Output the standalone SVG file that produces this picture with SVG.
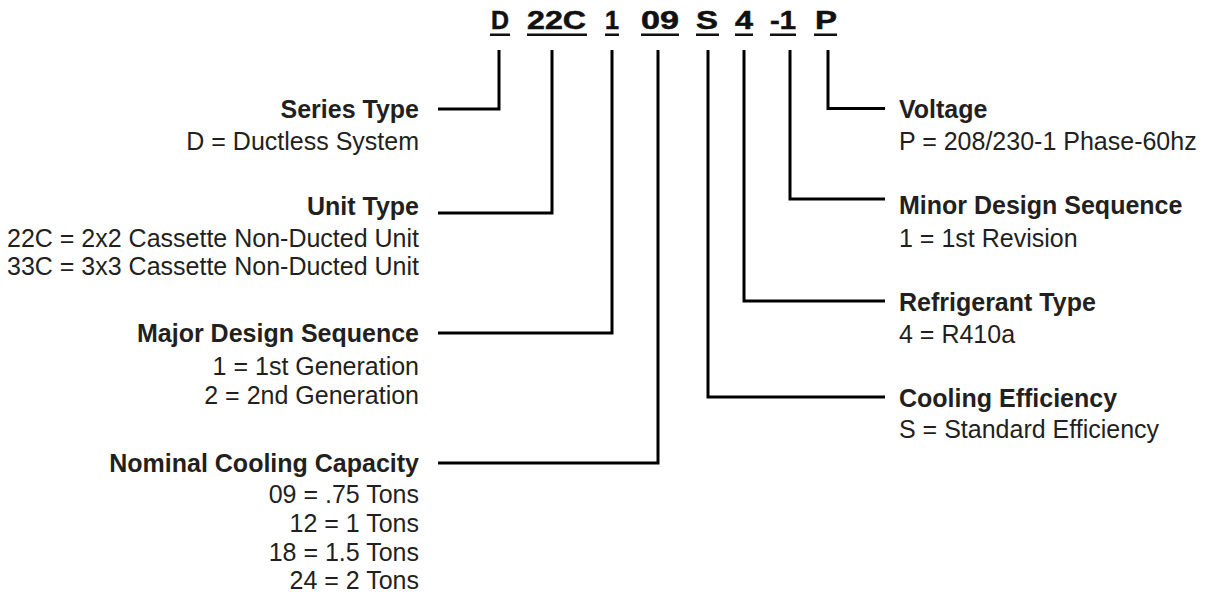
<svg xmlns="http://www.w3.org/2000/svg" width="1205" height="606" viewBox="0 0 1205 606">
<style>
.code{font-family:"Liberation Sans",Arial,sans-serif;font-weight:bold;font-size:25px;fill:#111;stroke:#111;stroke-width:0.5;text-anchor:start}
.t{font-family:"Liberation Sans",Arial,sans-serif;font-weight:bold;font-size:25px;fill:#231f20}
.d{font-family:"Liberation Sans",Arial,sans-serif;font-size:25px;fill:#231f20}
.l{text-anchor:end}
.ul{fill:#111}
.c{fill:none;stroke:#000;stroke-width:3;stroke-linejoin:miter}
</style>
<rect width="1205" height="606" fill="#fff"/>
<g id="code">
<text class="code" x="491" y="29" textLength="18" lengthAdjust="spacingAndGlyphs">D</text><rect class="ul" x="490" y="33.5" width="20" height="2.5"/>
<text class="code" x="527" y="29" textLength="59" lengthAdjust="spacingAndGlyphs">22C</text><rect class="ul" x="527" y="33.5" width="60" height="2.5"/>
<text class="code" x="605" y="29" textLength="14" lengthAdjust="spacingAndGlyphs">1</text><rect class="ul" x="605" y="33.5" width="14" height="2.5"/>
<text class="code" x="641" y="29" textLength="38" lengthAdjust="spacingAndGlyphs">09</text><rect class="ul" x="641" y="33.5" width="38" height="2.5"/>
<text class="code" x="696" y="29" textLength="22" lengthAdjust="spacingAndGlyphs">S</text><rect class="ul" x="696" y="33.5" width="23" height="2.5"/>
<text class="code" x="735" y="29" textLength="18" lengthAdjust="spacingAndGlyphs">4</text><rect class="ul" x="735" y="33.5" width="18" height="2.5"/>
<text class="code" x="770" y="29" textLength="26" lengthAdjust="spacingAndGlyphs">-1</text><rect class="ul" x="770" y="33.5" width="26" height="2.5"/>
<text class="code" x="815" y="29" textLength="22" lengthAdjust="spacingAndGlyphs">P</text><rect class="ul" x="814" y="33.5" width="23" height="2.5"/>
</g>
<g id="connectors">
<path class="c" d="M499,50 V109 H438"/>
<path class="c" d="M552,50 V213 H438"/>
<path class="c" d="M612,50 V333 H438"/>
<path class="c" d="M658,50 V463 H438"/>
<path class="c" d="M708,50 V397 H885"/>
<path class="c" d="M744,50 V301 H885"/>
<path class="c" d="M790,50 V199 H885"/>
<path class="c" d="M828,50 V108.5 H885"/>
</g>
<g id="series-type">
<text class="t l" x="419" y="118">Series Type</text>
<text class="d l" x="419" y="150">D = Ductless System</text>
</g>
<g id="unit-type">
<text class="t l" x="419" y="215">Unit Type</text>
<text class="d l" x="419" y="247">22C = 2x2 Cassette Non-Ducted Unit</text>
<text class="d l" x="419" y="275">33C = 3x3 Cassette Non-Ducted Unit</text>
</g>
<g id="major-design-sequence">
<text class="t l" x="419" y="342">Major Design Sequence</text>
<text class="d l" x="419" y="375">1 = 1st Generation</text>
<text class="d l" x="419" y="404">2 = 2nd Generation</text>
</g>
<g id="nominal-cooling-capacity">
<text class="t l" x="419" y="472">Nominal Cooling Capacity</text>
<text class="d l" x="419" y="503">09 = .75 Tons</text>
<text class="d l" x="419" y="532">12 = 1 Tons</text>
<text class="d l" x="419" y="561">18 = 1.5 Tons</text>
<text class="d l" x="419" y="589">24 = 2 Tons</text>
</g>
<g id="voltage">
<text class="t" x="899" y="118">Voltage</text>
<text class="d" x="899" y="150">P = 208/230-1 Phase-60hz</text>
</g>
<g id="minor-design-sequence">
<text class="t" x="899" y="214">Minor Design Sequence</text>
<text class="d" x="899" y="247">1 = 1st Revision</text>
</g>
<g id="refrigerant-type">
<text class="t" x="899" y="311">Refrigerant Type</text>
<text class="d" x="899" y="343">4 = R410a</text>
</g>
<g id="cooling-efficiency">
<text class="t" x="899" y="407">Cooling Efficiency</text>
<text class="d" x="899" y="438">S = Standard Efficiency</text>
</g>
</svg>
